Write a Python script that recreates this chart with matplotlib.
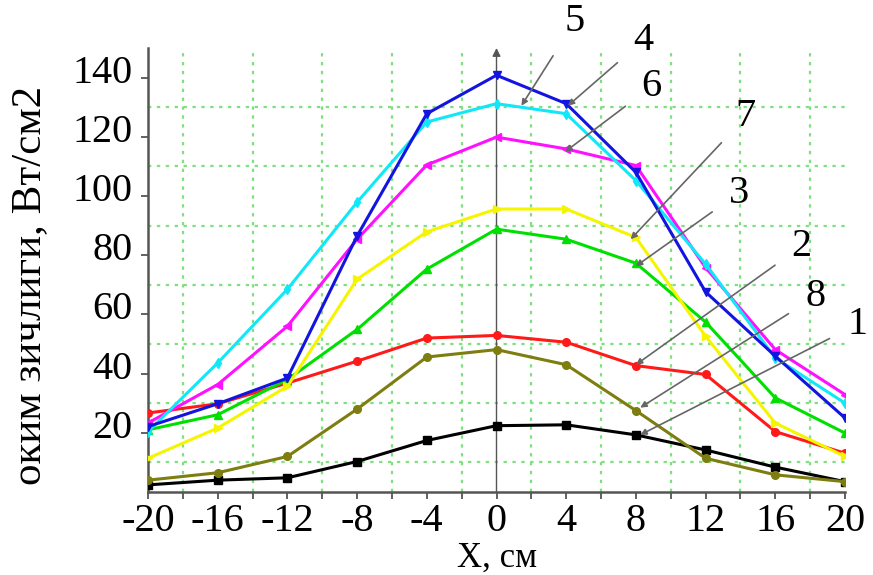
import numpy as np
import matplotlib
matplotlib.use('Agg')
import matplotlib.pyplot as plt
from matplotlib.transforms import ScaledTranslation

# dannye
x = [-20, -16, -12, -8, -4, 0, 4, 8, 12, 16, 20]
s1 = [2.4, 4.0, 4.8, 10.3, 17.4, 22.4, 22.7, 19.3, 14.2, 8.4, 3.5]
s8 = [4.0, 6.5, 12.0, 28.0, 45.6, 48.1, 43.0, 27.5, 11.4, 5.8, 3.5]
s2 = [26.7, 29.8, 36.8, 44.2, 52.0, 52.9, 50.6, 42.7, 39.7, 20.4, 13.1]
s3 = [21.0, 26.1, 38.0, 54.9, 75.3, 88.8, 85.4, 77.3, 57.4, 31.8, 19.9]
s7 = [11.4, 21.6, 35.7, 71.9, 87.9, 95.6, 95.6, 86.0, 52.6, 23.3, 12.0]
s6 = [23.3, 36.3, 56.0, 85.4, 110.5, 119.9, 115.9, 110.3, 75.8, 48.1, 32.9]
s4 = [20.4, 43.6, 68.5, 97.9, 125.0, 131.2, 127.8, 105.2, 77.0, 45.3, 30.0]
s5 = [22.1, 29.8, 38.5, 86.5, 127.8, 140.8, 131.2, 108.0, 67.6, 45.9, 25.0]

xticks = [-20, -16, -12, -8, -4, 0, 4, 8, 12, 16, 20]
yticks = [20, 40, 60, 80, 100, 120, 140]

# metki krivyh: (tekst, tochka na krivoj, polozhenie teksta)
labels = ['5', '4', '6', '7', '3', '2', '8', '1']
tips = [(1.43, 130.5), (4.1, 130.5), (3.95, 115.0), (7.7, 85.4),
        (8.0, 76.3), (8.0, 43.0), (8.25, 28.5), (8.25, 19.3)]
texts = [(4.5, 159.0), (8.4, 152.5), (8.9, 137.0), (14.3, 126.7),
         (13.9, 101.0), (17.5, 83.0), (18.3, 66.0), (20.7, 56.6)]

plt.rcParams['font.family'] = ['Liberation Serif', 'DejaVu Serif']
plt.rcParams['axes.unicode_minus'] = False

fig = plt.figure(figsize=(8.73, 5.75), dpi=100)
ax = fig.add_axes([148/873, 1-492/575, 697/873, 444/575])

series = [
    (s1, '#000000', 's'),
    (s8, '#7d7d10', 'o'),
    (s2, '#ff1a1a', 'o'),
    (s3, '#00e000', '^'),
    (s7, '#f5f500', '>'),
    (s6, '#ff10ff', '<'),
    (s4, '#10e8f8', 'd'),
    (s5, '#1414e0', 'v'),
]
for ys, c, m in series:
    ax.plot(x, ys, color=c, marker=m, lw=2.2, ms=5.5, zorder=3)

ax.set_xlim(-20, 20)
ax.set_ylim(0, 150)

# setka
ax.set_xticks(xticks)
ax.set_xticks(np.arange(-18, 19, 4), minor=True)
ax.set_yticks(yticks)
ax.set_yticks(np.arange(10, 140, 20), minor=True)
ax.grid(False)
ax.grid(which='minor', color='#7ee07e', ls=(0, (1.5, 2.5)), lw=1.6)
ax.tick_params(axis='x', which='both', direction='out', length=5, width=1.3,
               color='#555555', labelsize=29, pad=3)
ax.tick_params(axis='y', which='major', direction='out', length=5, width=1.3,
               color='#555555', labelsize=29, pad=6)
ax.tick_params(axis='y', which='minor', length=0)

off = ScaledTranslation(0, 0.09, fig.dpi_scale_trans)
for lab in ax.get_yticklabels():
    lab.set_transform(lab.get_transform() + off)

for sp in ['top', 'right']:
    ax.spines[sp].set_visible(False)
for sp in ['left', 'bottom']:
    ax.spines[sp].set_color('#555555')
    ax.spines[sp].set_linewidth(1.8)

# os' x=0 so strelkoj
ax.annotate('', xy=(0, 150), xytext=(0, 0),
            arrowprops=dict(arrowstyle='-|>', color='#555555', lw=1.0,
                            mutation_scale=12, shrinkA=0, shrinkB=0),
            zorder=2)

for t, p, q in zip(labels, tips, texts):
    ax.annotate(t, xy=p, xytext=q, fontsize=29, ha='center', va='center',
                annotation_clip=False,
                arrowprops=dict(arrowstyle='-|>', color='#666666', lw=1.2,
                                mutation_scale=9, shrinkA=12, shrinkB=0),
                zorder=5)

fig.text(30/873, 1-285/575, 'оким зичлиги, Вт/см2', rotation=90,
         ha='center', va='center', fontsize=31)
fig.text(497/873, 1-558/575, 'X, см', ha='center', va='center', fontsize=25)

fig.savefig('out.png', dpi=100)
